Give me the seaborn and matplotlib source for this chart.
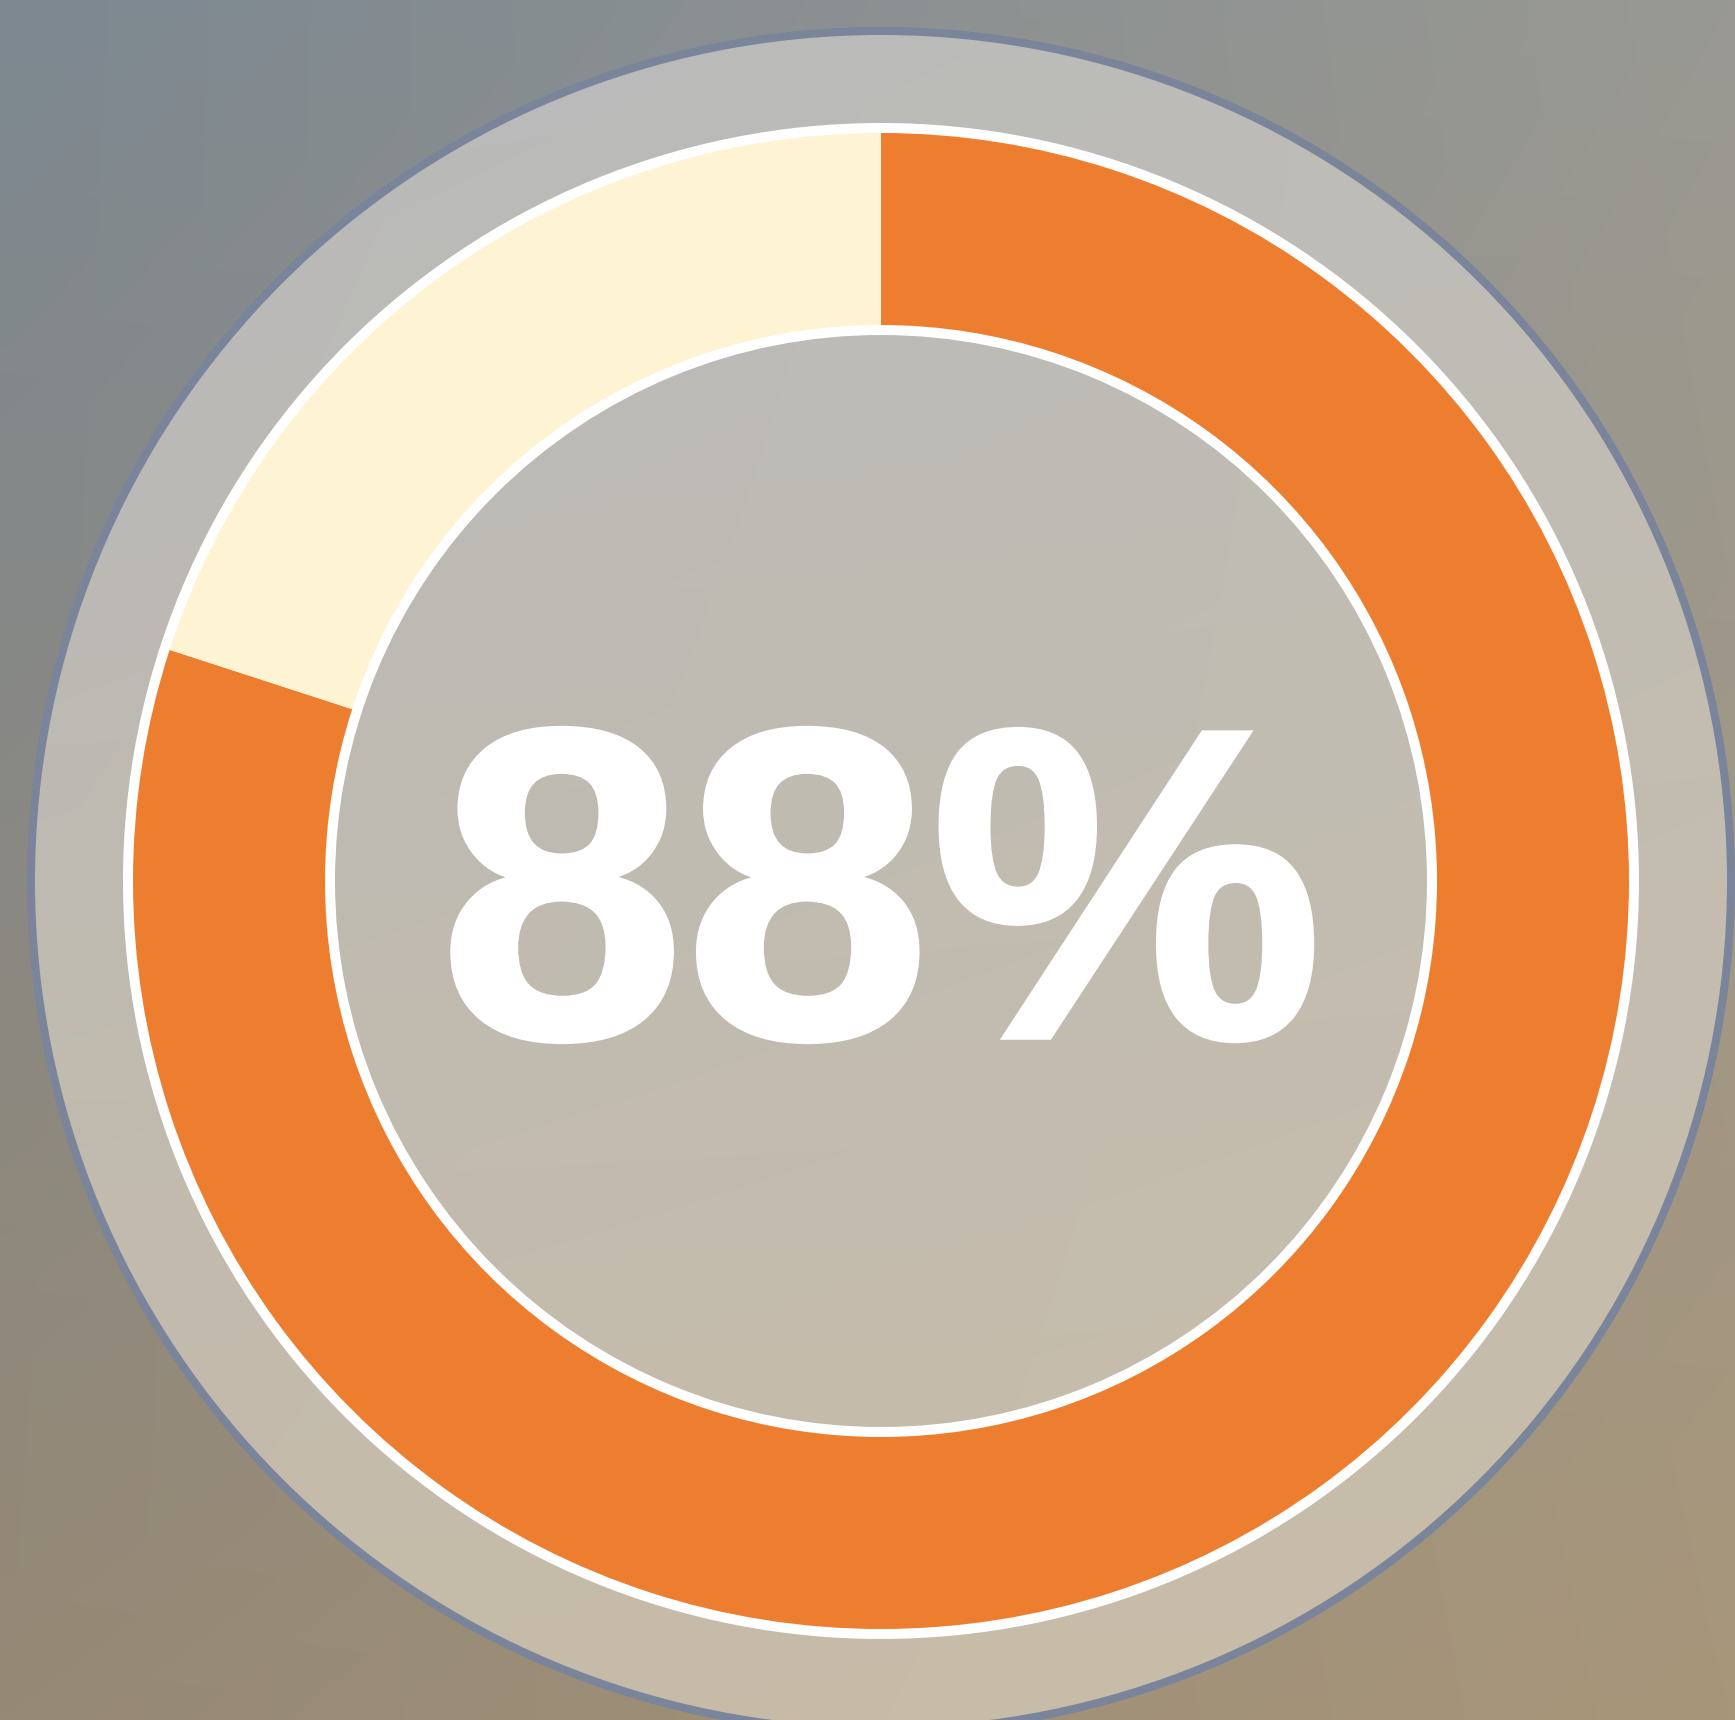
import numpy as np
import matplotlib
matplotlib.use("Agg")
from matplotlib import pyplot as plt
from matplotlib.patches import Circle
import matplotlib.patheffects as pe
import seaborn as sns

#Data
segments = ["done", "left"]
shares = [80, 20]
center_label = "88%"
ring_colors = ["#EE7E2F", "#FEF4D4"]

#Canvas (pixels)
W, H = 1735, 1720
cx, cy = 881, H - 881

sns.set_theme(style="white")
plt.rcParams['font.family'] = ['Liberation Sans', 'DejaVu Sans']


def grad_image(tl, tr, bl, br, n=128):
    tl, tr, bl, br = [np.array(matplotlib.colors.to_rgb(c)) for c in (tl, tr, bl, br)]
    u = np.linspace(0, 1, n)[None, :, None]
    v = np.linspace(0, 1, n)[:, None, None]
    top = tl * (1 - u) + tr * u
    bot = bl * (1 - u) + br * u
    return top * (1 - v) + bot * v


fig = plt.figure(figsize=(W / 100, H / 100), dpi=100)
ax = fig.add_axes([0, 0, 1, 1])

#Background
ax.imshow(grad_image("#7D8891", "#999993", "#968975", "#A8967A"),
          extent=(0, W, 0, H), origin="upper", aspect="auto",
          interpolation="bilinear", zorder=0)

#Outer gray disc with bluish rim
R_disc = 854
rim = Circle((cx, cy), R_disc, facecolor="#7A849B", edgecolor="none", zorder=1)
ax.add_patch(rim)
disc_img = ax.imshow(grad_image("#B7B9BB", "#BEBDB8", "#C6BBA8", "#C9BDA8"),
                     extent=(cx - R_disc, cx + R_disc, cy - R_disc, cy + R_disc),
                     origin="upper", aspect="auto", interpolation="bilinear", zorder=2)
disc_img.set_clip_path(Circle((cx, cy), R_disc - 8, transform=ax.transData))

#White ring underneath the colored ring
ax.pie([1], radius=758, center=(cx, cy), colors=["white"],
       wedgeprops=dict(width=212, edgecolor="none"))
ax.pie(shares, radius=748, center=(cx, cy), colors=ring_colors,
       startangle=90, counterclock=False,
       wedgeprops=dict(width=192, edgecolor="none"))
for w in ax.patches[-3:]:
    w.set_zorder(3)

#big label, drawn through its outline so the glyphs keep their shape at this size
ax.text(cx, 683, center_label, ha="center", va="baseline", color="white",
        fontsize=318, fontweight="bold", zorder=4,
        path_effects=[pe.PathPatchEffect(facecolor="white", edgecolor="white",
                                         linewidth=4)])

ax.set_xlim(0, W)
ax.set_ylim(0, H)
ax.set_axis_off()
fig.savefig("out.png", dpi=100)
plt.close()
